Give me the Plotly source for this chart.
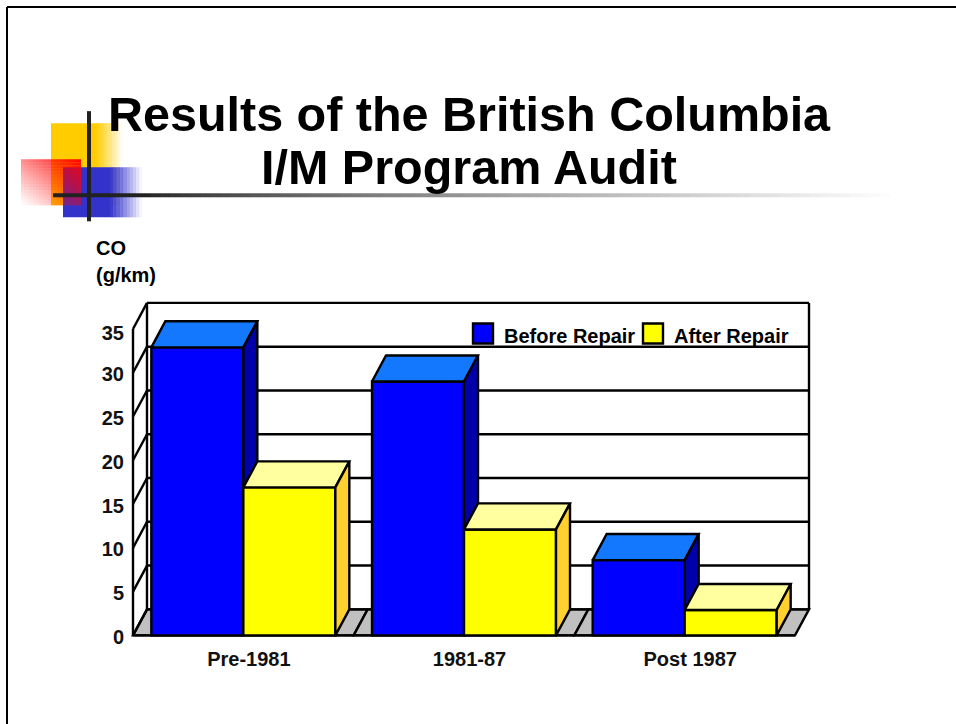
import plotly.graph_objects as go

# ---- data ----
categories = ["Pre-1981", "1981-87", "Post 1987"]
before_repair = [32.9, 29.0, 8.6]
after_repair = [16.9, 12.1, 2.9]
y_ticks = [0, 5, 10, 15, 20, 25, 30, 35]
title_lines = ["Results of the British Columbia", "I/M Program Audit"]

# ---- style / layout constants ----
W, H = 956, 724
FIG_H = H + 8      # the page renders the figure 8px shorter than the layout height
FONT = "Liberation Sans, Arial, sans-serif"
PX_X = 220.67      # px per category
PX_Y = 8.743       # px per CO unit
X0_PX, Y0_PX = 133, 634.5   # pixel of the front-left floor corner
DX, DY = 14 / PX_X, 26 / PX_Y   # depth of the pseudo-3D projection, data units
BAR_W = 92 / PX_X
BLUE, BLUE_TOP, BLUE_SIDE = "#0000FF", "#1478FF", "#0000AA"
YEL, YEL_TOP, YEL_SIDE = "#FFFF00", "#FFFFA0", "#FFD02E"
XL, XR = -0.5, 2.5
YMAX = 35
LW = 2.4


def px(x):
    return x / W


def py(y):
    return 1 - y / H


def rect(x0, y0, x1, y1, color, opacity=1.0):
    return dict(type="rect", xref="paper", yref="paper", x0=px(x0), x1=px(x1), y0=py(y0), y1=py(y1),
                fillcolor=color, opacity=opacity, line=dict(width=0), layer="below")


def line_px(x0, y0, x1, y1, color="black", width=2):
    return dict(type="line", xref="paper", yref="paper", x0=px(x0), x1=px(x1), y0=py(y0), y1=py(y1),
                line=dict(color=color, width=width), layer="below")


def dline(x0, y0, x1, y1):
    return dict(type="line", xref="x", yref="y", x0=x0, x1=x1, y0=y0, y1=y1,
                line=dict(color="black", width=LW), layer="below")


shapes = []
# slide frame
shapes += [line_px(7, 7, 7, H), line_px(7, 7, W, 7)]


# ---- decorative template squares ----
def fade(x0, x1, y0, y1, rgb, solid_to, steps=10):
    shapes.append(rect(x0, y0, solid_to, y1, "rgb(%d,%d,%d)" % rgb))
    w = (x1 - solid_to) / steps
    for i in range(steps):
        shapes.append(rect(solid_to + i * w, y0, solid_to + (i + 1) * w + 0.3, y1,
                           "rgb(%d,%d,%d)" % rgb, 1 - (i + 0.5) / steps))


fade(51, 122, 123, 205, (255, 204, 0), 96)
fade(63, 142, 167, 217, (51, 51, 204), 110)
for i in range(20):
    for j in range(15):
        cx, cy = 21 + i * 3, 159 + j * 46 / 15
        u, v = (i + 0.5) / 20, 1 - (j + 0.5) / 15
        shapes.append(rect(cx, cy, cx + 3, cy + 46 / 15 + 0.1, "#FF0000", min(1, (0.5 * (u + v)) ** 1.15)))
shapes.append(rect(87, 111, 91, 221, "#222222"))
shapes.append(rect(53, 193, 140, 197, "#222222"))
for i in range(75):
    g = int(34 + 221 * (i / 75) ** 0.75)
    shapes.append(rect(140 + i * 10, 193, 140 + (i + 1) * 10 + 0.3, 197, "rgb(%d,%d,%d)" % (g, g, g)))

# ---- back walls and floor, from the tick values ----
x_back_l, x_back_r = XL + DX, XR + DX
for k in range(len(categories)):
    a, b = XL + k, XL + k + 1
    shapes.append(dict(type="path", xref="x", yref="y",
                       path=f"M{a},0 L{a + DX},{DY} L{b + DX},{DY} L{b},0 Z",
                       fillcolor="#C0C0C0", line=dict(color="black", width=LW), layer="below"))
for v in y_ticks:
    shapes.append(dline(x_back_l, v + DY, x_back_r, v + DY))
    shapes.append(dline(XL, v, x_back_l, v + DY))
shapes.append(dline(XL, 0, XL, YMAX))
shapes.append(dline(x_back_l, DY, x_back_l, YMAX + DY))
shapes.append(dline(x_back_r, DY, x_back_r, YMAX + DY))
shapes.append(dline(XL, 0, XR, 0))

# ---- legend swatches ----
for x0, col in ((473, BLUE), (643, YEL)):
    shapes.append(dict(type="rect", xref="paper", yref="paper", x0=px(x0), x1=px(x0 + 20), y0=py(323), y1=py(343),
                       fillcolor=col, line=dict(color="black", width=LW), layer="above"))

fig = go.Figure()
xs = list(range(len(categories)))
fig.add_trace(go.Bar(x=xs, y=before_repair, name="Before Repair", width=BAR_W, offset=-BAR_W,
                     marker=dict(color=BLUE, line=dict(color="black", width=LW))))
fig.add_trace(go.Bar(x=xs, y=after_repair, name="After Repair", width=BAR_W, offset=0,
                     marker=dict(color=YEL, line=dict(color="black", width=LW))))


def faces(kind, off, values, lower=None):
    X, Y = [], []
    for i, v in zip(xs, values):
        l, r = i + off, i + off + BAR_W
        if kind == "top":
            X += [l, l + DX, r + DX, r, l, None]
            Y += [v, v + DY, v + DY, v, v, None]
        else:
            low = lower[i] if lower else 0
            X += [r, r + DX, r + DX, r, r, None]
            Y += [v, v + DY, low + DY, low, v, None]
    return X, Y


layers = [
    ("top", -BAR_W, before_repair, None, BLUE_TOP),
    ("side", -BAR_W, before_repair, after_repair, BLUE_SIDE),
    ("top", 0, after_repair, None, YEL_TOP),
    ("side", 0, after_repair, None, YEL_SIDE),
]
for kind, off, vals, low, col in layers:
    X, Y = faces(kind, off, vals, low)
    fig.add_trace(go.Scatter(x=X, y=Y, mode="lines", fill="toself", fillcolor=col,
                             line=dict(color="black", width=LW), hoverinfo="skip", showlegend=False))

# ---- axes: domain is padded so edge lines are not clipped ----
pad = 5
dom_l, dom_r = X0_PX - pad, X0_PX + (XR - XL + DX) * PX_X + pad
dom_b, dom_t = Y0_PX + pad, Y0_PX - (YMAX + DY) * PX_Y - pad
fig.update_xaxes(domain=[px(dom_l), px(dom_r)], range=[XL - pad / PX_X, XR + DX + pad / PX_X],
                 tickmode="array", tickvals=[i + 0.025 for i in xs], ticktext=categories,
                 showgrid=False, zeroline=False, showline=False, ticks="",
                 ticklabelstandoff=5, tickfont=dict(family=FONT, size=20, color="#111111", weight="bold"))
nudged = [v - (0.5 if v == YMAX else 0.17) for v in y_ticks]
fig.update_yaxes(domain=[py(dom_b), py(dom_t)], range=[-pad / PX_Y, YMAX + DY + pad / PX_Y],
                 tickmode="array", tickvals=nudged, ticktext=[str(v) for v in y_ticks],
                 showgrid=False, zeroline=False, showline=False, ticks="",
                 ticklabelstandoff=3, tickfont=dict(family=FONT, size=20, color="#111111", weight="bold"))


def label(text, x, y, size=20, anchor="left"):
    return dict(text=text, xref="paper", yref="paper", x=px(x), y=py(y), xanchor=anchor, yanchor="middle",
                showarrow=False, borderpad=0, font=dict(family=FONT, size=size, color="black"))


annotations = [
    label(f"<b>{title_lines[1]}</b>", 469, 167, 48.5, "center"),
    label("<b>CO</b>", 95, 248),
    label("<b>(g/km)</b>", 95, 275),
    label("<b>Before Repair</b>", 503, 336),
    label("<b>After Repair</b>", 673, 336),
]

fig.update_layout(
    width=W, height=FIG_H, margin=dict(l=0, r=0, t=0, b=0), autosize=False,
    paper_bgcolor="white", plot_bgcolor="rgba(0,0,0,0)", showlegend=False,
    barmode="overlay",
    title=dict(text=f"<b>{title_lines[0]}</b>", x=469 / W, xanchor="center", y=py(113), yanchor="middle",
               font=dict(family=FONT, size=48.5, color="black")),
    shapes=shapes, annotations=annotations,
)
fig.write_html(
    "out.html",
    config={"displayModeBar": False},
    post_script="document.documentElement.style.overflow='hidden';document.body.style.margin='0';",
)
